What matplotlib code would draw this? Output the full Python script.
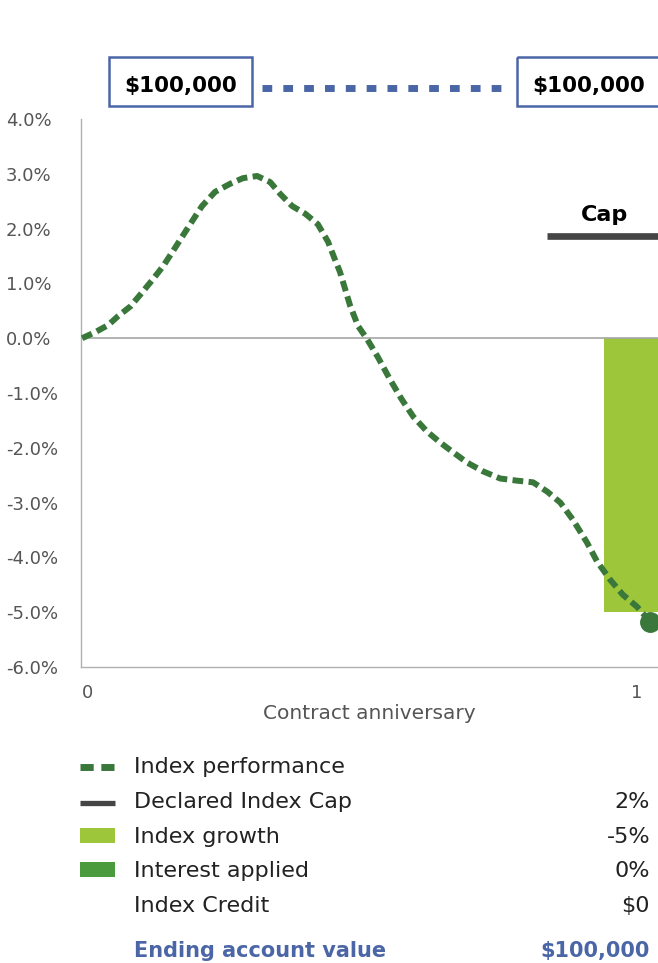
import matplotlib.pyplot as plt
from matplotlib.patches import Rectangle
from matplotlib.transforms import ScaledTranslation

W, H = 658, 963

# index performance path over the contract year (fraction of year, % change)
perf_x = [0.000, 0.023, 0.046, 0.063, 0.085, 0.106, 0.125, 0.143, 0.160, 0.176,
          0.194, 0.211, 0.234, 0.261, 0.283, 0.308, 0.331, 0.349, 0.370, 0.393,
          0.415, 0.433, 0.445, 0.454, 0.463, 0.472, 0.486, 0.502, 0.521, 0.542,
          0.563, 0.583, 0.607, 0.630, 0.653, 0.678, 0.706, 0.736, 0.766, 0.794,
          0.819, 0.842, 0.864, 0.889, 0.907, 0.930, 0.952, 0.977, 1.000]
perf_y = [0.00, 0.11, 0.24, 0.40, 0.58, 0.84, 1.08, 1.32, 1.59, 1.85,
          2.14, 2.41, 2.67, 2.82, 2.92, 2.96, 2.85, 2.63, 2.41, 2.27,
          2.08, 1.76, 1.44, 1.21, 0.90, 0.59, 0.22, -0.02, -0.35, -0.75,
          -1.12, -1.43, -1.70, -1.90, -2.08, -2.27, -2.43, -2.56, -2.60, -2.63,
          -2.80, -3.00, -3.31, -3.73, -4.08, -4.41, -4.68, -4.90, -5.17]

anniversaries = [0, 1]
growth_x = [1.0]
growth_y = [-5.0]
cap_level = 1.87
cap_start = 0.819

start_value = "$100,000"
end_value = "$100,000"
legend_labels = ["Index performance", "Declared Index Cap", "Index growth",
                 "Interest applied", "Index Credit"]
legend_values = ["", "2%", "-5%", "0%", "$0"]

DARK = "#3a773a"
LIGHT = "#9dc63b"
MID = "#4c9a3e"
CAP = "#454545"
BLUE = "#4b66a6"
GREY = "#555555"

plt.rcParams["font.family"] = ["DejaVu Sans"]

fig = plt.figure(figsize=(W / 100, H / 100), dpi=100)
ax = fig.add_axes([81 / W, 1 - 667 / H, (W - 81) / W, (667 - 119) / H])

ax.set_xlim(-0.002, 1.014)
ax.set_ylim(-6, 4)

ax.bar(growth_x, growth_y, width=0.162, color=LIGHT, zorder=1)
ax.axhline(0, color="#a6a6a6", lw=1.2, zorder=2)
ax.hlines(cap_level, cap_start, 1.2, color=CAP, lw=4.8, zorder=3)
ax.text(growth_x[0] - 0.081, cap_level + 0.2, "Cap", ha="center", va="bottom",
        fontsize=16, fontweight="bold", color="black")
ax.plot(perf_x, perf_y, color=DARK, lw=4.3, dashes=(1.8, 0.9),
        dash_capstyle="butt", zorder=4)
ax.plot(perf_x[-1:], perf_y[-1:], "o", ms=14, color=DARK, zorder=5,
        clip_on=False)

for side in ["top", "right"]:
    ax.spines[side].set_visible(False)
for side in ["left", "bottom"]:
    ax.spines[side].set_color("#b0b0b0")
    ax.spines[side].set_linewidth(1.0)

yt = list(range(-6, 5))
ax.set_yticks(yt)
ax.set_yticklabels([f"{v:.1f}%" for v in yt])
ax.tick_params(axis="y", length=0, pad=54, labelsize=13, labelcolor=GREY)
for lab in ax.get_yticklabels():
    lab.set_ha("left")

ax.set_xticks(anniversaries)
ax.set_xticklabels([str(a) for a in anniversaries])
ax.tick_params(axis="x", length=0, pad=12, labelsize=13, labelcolor=GREY)
xl = ax.get_xticklabels()
xl[0].set_transform(xl[0].get_transform() + ScaledTranslation(5 / 100, 0, fig.dpi_scale_trans))
xl[1].set_transform(xl[1].get_transform() + ScaledTranslation(-13 / 100, 0, fig.dpi_scale_trans))

ax.set_xlabel("Contract anniversary", fontsize=14.5, color=GREY, va="center")
ax.xaxis.set_label_coords(0.5, -(713 - 667) / (667 - 119))

# overlay in pixel units for header boxes and the summary legend
ov = fig.add_axes([0, 0, 1, 1])
ov.set_xlim(0, W)
ov.set_ylim(H, 0)
ov.axis("off")

for x0, txt in [(109, start_value), (517, end_value)]:
    ov.add_patch(Rectangle((x0, 57), 143, 49, fill=False, ec=BLUE, lw=1.8))
    ov.text(x0 + 71.5, 92, txt, ha="center", va="baseline", fontsize=15.5,
            fontweight="bold", color="black")
ov.plot([262, 506], [88, 88], color=BLUE, lw=5, dashes=(1.4, 1.6),
        dash_capstyle="butt")

rows_base = [773, 808, 843, 877, 912]
for y, lab, val in zip(rows_base, legend_labels, legend_values):
    ov.text(134, y, lab, ha="left", va="baseline", fontsize=16, color="#222222")
    if val:
        ov.text(650, y, val, ha="right", va="baseline", fontsize=16, color="#222222")

ov.plot([80, 115], [767, 767], color=DARK, lw=5, dashes=(1.9, 1.1),
        dash_capstyle="butt")
ov.plot([80, 115], [803, 803], color=CAP, lw=3.8, solid_capstyle="butt")
ov.add_patch(Rectangle((80, 828), 35, 15, color=LIGHT, lw=0))
ov.add_patch(Rectangle((80, 862), 35, 15, color=MID, lw=0))

ov.text(134, 957, "Ending account value", ha="left", va="baseline",
        fontsize=15, fontweight="bold", color=BLUE)
ov.text(650, 957, end_value, ha="right", va="baseline", fontsize=15,
        fontweight="bold", color=BLUE)

fig.savefig("out.png", dpi=100)
